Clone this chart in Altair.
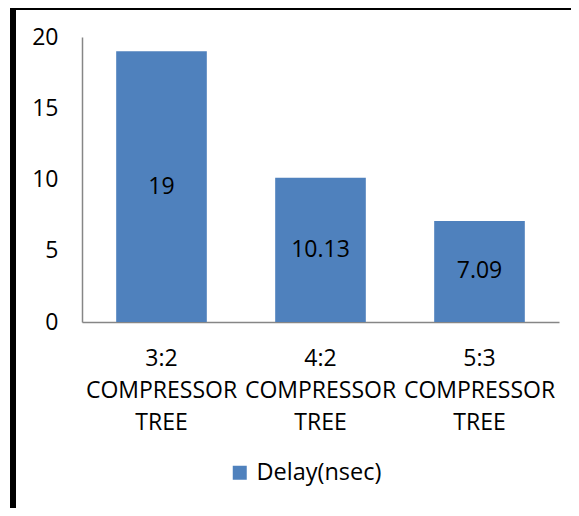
import altair as alt
import pandas as pd

categories = ["3:2 COMPRESSOR TREE", "4:2 COMPRESSOR TREE", "5:3 COMPRESSOR TREE"]
delay = [19, 10.13, 7.09]
series = "Delay(nsec)"
labels = ["19", "10.13", "7.09"]

df = pd.DataFrame({"cat": categories, "value": delay, "label": labels, "series": [series] * 3})

FONT = "Open Sans"
FS = 23

x_axis = alt.Axis(labelAngle=0, labelExpr="split(datum.label, ' ')",
                  labelFont=FONT, labelFontSize=FS, labelColor="#000000",
                  labelLineHeight=32, labelBaseline="top", labelPadding=25,
                  ticks=False, domainColor="#868686", domainWidth=1.5,
                  labelLimit=300, grid=False, title=None, orient="bottom")
y_axis = alt.Axis(values=[0, 5, 10, 15, 20], grid=False, ticks=False,
                  labelFont=FONT, labelFontSize=FS, labelColor="#000000",
                  labelPadding=24, domainColor="#868686", domainWidth=1.5,
                  title=None, orient="left")
x_scale = alt.Scale(paddingInner=0.43, paddingOuter=0.215)
y_scale = alt.Scale(domain=[0, 20], nice=False)

base = alt.Chart(df)

bars = base.mark_bar(color="#4F81BD").encode(
    x=alt.X("cat:N", sort=categories, title=None, scale=x_scale, axis=x_axis),
    y=alt.Y("value:Q", title=None, scale=y_scale, axis=y_axis),
    color=alt.Color("series:N", title=None,
                    scale=alt.Scale(domain=[series], range=["#4F81BD"]),
                    legend=alt.Legend(orient="none", legendX=146, legendY=424,
                                      symbolType="square", symbolSize=196,
                                      symbolStrokeWidth=0, padding=0,
                                      labelFont=FONT, labelFontSize=23.5,
                                      labelColor="#000000", labelOffset=5,
                                      labelLimit=300)),
)

text = base.transform_calculate(mid="datum.value / 2").mark_text(
    font=FONT, fontSize=FS, color="#000000", baseline="middle"
).encode(
    x=alt.X("cat:N", sort=categories, title=None, scale=x_scale, axis=x_axis),
    y=alt.Y("mid:Q", title=None, scale=y_scale, axis=y_axis),
    text="label:N",
)

frame_data = alt.Data(values=[{"a": 1}])
left_border = alt.Chart(frame_data).mark_rule(color="#000000", strokeWidth=6).encode(
    x=alt.value(-69), y=alt.value(-40), y2=alt.value(490))
top_border = alt.Chart(frame_data).mark_rule(color="#000000", strokeWidth=4).encode(
    x=alt.value(-72), x2=alt.value(520), y=alt.value(-29))

chart = alt.layer(bars, text, left_border, top_border).properties(
    width=477, height=285,
    padding={"left": 74, "top": 29, "right": 12, "bottom": 186},
    autosize=alt.AutoSizeParams(type="none"),
    view=alt.ViewBackground(stroke="transparent", strokeWidth=0),
).configure_view(
    stroke="transparent", strokeWidth=0
).configure_axisTop(
    domain=False, labels=False, ticks=False, grid=False
).configure_axisRight(
    domain=False, labels=False, ticks=False, grid=False
)

chart.save("out.html", embed_options={"renderer": "svg", "actions": False})
